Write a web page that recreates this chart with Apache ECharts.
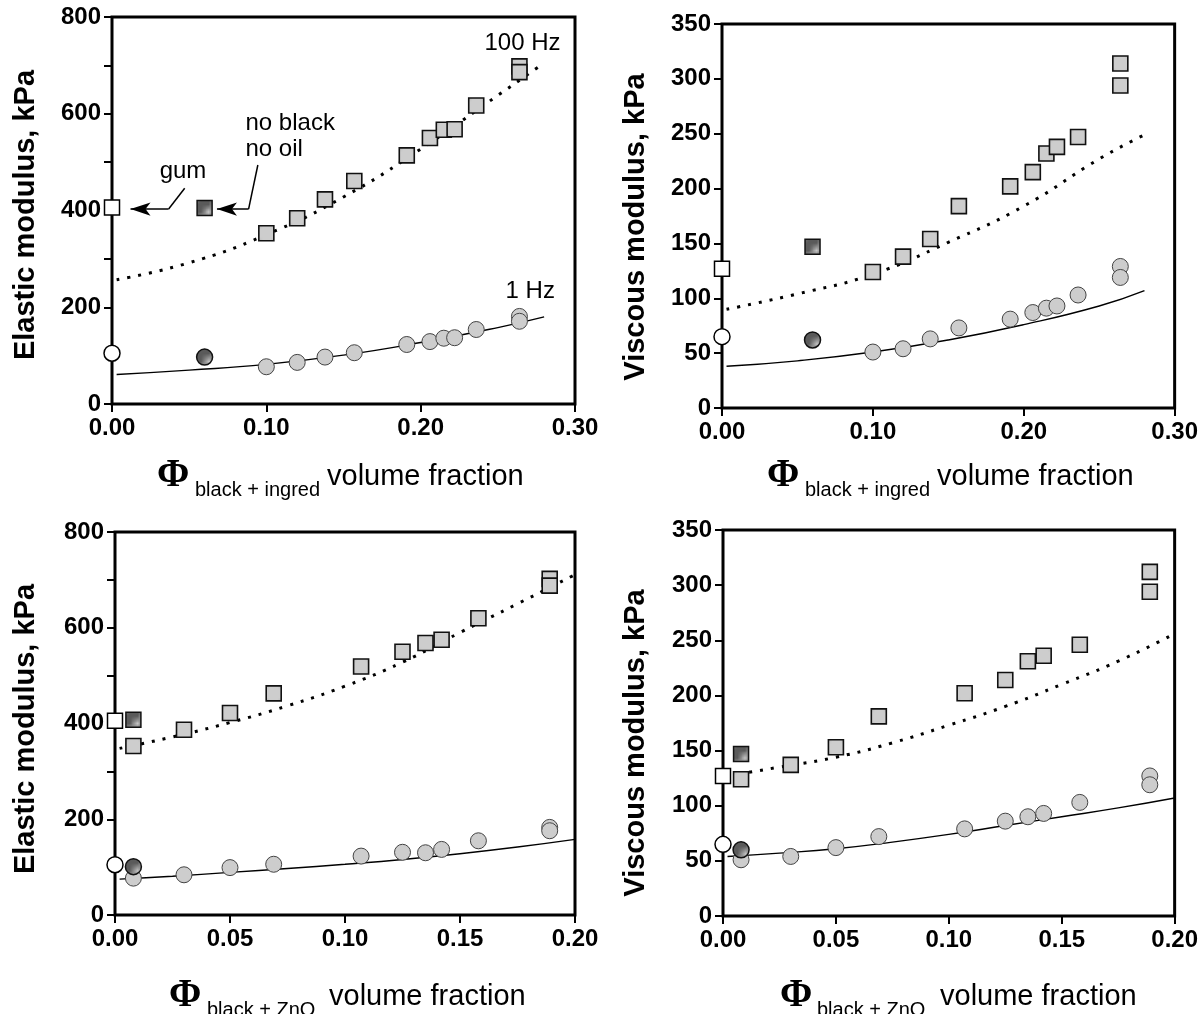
<!DOCTYPE html>
<html>
<head>
<meta charset="utf-8">
<script src="https://cdn.jsdelivr.net/npm/echarts@6/dist/echarts.min.js"></script>
<style>
  html, body { margin: 0; padding: 0; background: #fff; }
  #chart { width: 1201px; height: 1014px; }
</style>
</head>
<body>
<div id="chart"></div>
<script>
// ---------- measurements ----------
// filler volume fraction, black + ingredients series (same samples for G' and G'')
const phiIngred = [0.100, 0.120, 0.138, 0.157, 0.191, 0.206, 0.215, 0.222, 0.236, 0.264, 0.264];
const elasticIngred100Hz = [353, 384, 423, 461, 514, 550, 567, 568, 617, 698, 686];
const elasticIngred1Hz = [77, 86, 97, 106, 123, 129, 136, 137, 154, 181, 171];
const viscousIngred100Hz = [124, 138, 154, 184, 202, 215, 232, 238, 247, 314, 294];
const viscousIngred1Hz = [51, 54, 63, 73, 81, 87, 91, 93, 103, 129, 119];

// filler volume fraction, black + ZnO series
const phiZnO = [0.008, 0.030, 0.050, 0.069, 0.107, 0.125, 0.135, 0.142, 0.158, 0.189, 0.189];
const elasticZnO100Hz = [353, 387, 422, 463, 519, 550, 568, 575, 620, 702, 688];
const elasticZnO1Hz = [77, 84, 99, 106, 123, 131, 130, 137, 155, 183, 176];
const viscousZnO100Hz = [124, 137, 153, 181, 202, 214, 231, 236, 246, 312, 294];
const viscousZnO1Hz = [51, 54, 62, 72, 79, 86, 90, 93, 103, 127, 119];

// reference compounds: gum (phi = 0) and "no black, no oil"
const gumPhi = 0;
const gumElastic = [406, 105];      // [100 Hz, 1 Hz]
const gumViscous = [127, 65];
const noBlackPhiIngred = 0.060;
const noBlackPhiZnO = 0.008;
const noBlackElasticIngred = [405, 97];
const noBlackViscousIngred = [147, 62];
const noBlackElasticZnO = [408, 101];
const noBlackViscousZnO = [147, 60];

// model curves
const fitPhiIngred = [0.003, 0.05, 0.10, 0.15, 0.20, 0.25, 0.28];
const fitElasticIngred100Hz = [257, 292, 350, 428, 527, 638, 705];
const fitElasticIngred1Hz = [61, 70, 82, 101, 127, 158, 180];
const fitViscousIngred100Hz = [90, 104, 122, 151, 184, 227, 249];
const fitViscousIngred1Hz = [38, 43, 51, 62, 76, 93, 107];

const fitPhiZnO = [0.002, 0.025, 0.05, 0.075, 0.10, 0.125, 0.15, 0.175, 0.20];
const fitElasticZnO100Hz = [348, 372, 402, 437, 478, 528, 590, 650, 711];
const fitElasticZnO1Hz = [75, 81, 89, 97, 106, 116, 128, 142, 158];
const fitViscousZnO100Hz = [127, 135, 144, 157, 173, 190, 210, 231, 256];
const fitViscousZnO1Hz = [54, 57, 61, 67, 74, 82, 90, 98, 107];

// ---------- styling helpers ----------
const SANS = "'Liberation Sans', Arial, Helvetica, sans-serif";
const SERIF = "'Liberation Serif', 'Times New Roman', serif";

function tile(bg, dot, size, dots) {
  const c = document.createElement('canvas');
  c.width = size; c.height = size;
  const g = c.getContext('2d');
  g.fillStyle = bg; g.fillRect(0, 0, size, size);
  g.fillStyle = dot;
  dots.forEach(p => g.fillRect(p[0], p[1], 1, 1));
  return { image: c, repeat: 'repeat' };
}
const stipple = tile('#cdcdcd', '#7a7a7a', 3, [[1, 1]]);
const hatch = tile('#5a5a5a', '#c4c4c4', 4, [[0, 0], [2, 2], [1, 3], [3, 1]]);

const zip = (xs, ys) => xs.map((x, i) => [x, ys[i]]);

const grids = [
  { left: 112, top: 17, width: 463, height: 387 },
  { left: 722, top: 24, width: 455, height: 384 },
  { left: 115, top: 532, width: 460, height: 383 },
  { left: 723, top: 530, width: 455, height: 386 }
].map(g => Object.assign({ show: true, borderColor: '#000', borderWidth: 3, backgroundColor: 'transparent' }, g));

function xAxis(idx, max, step) {
  return {
    type: 'value', gridIndex: idx, min: 0, max: max, interval: step,
    axisLine: { show: false },
    axisTick: { show: true, inside: false, length: 8, lineStyle: { color: '#000', width: 2 } },
    splitLine: { show: false },
    axisLabel: { margin: 12, color: '#000', fontSize: 24, fontWeight: 'bold', fontFamily: SANS,
                 formatter: v => v.toFixed(2) }
  };
}
function yAxis(idx, max, step, labelStep) {
  return {
    type: 'value', gridIndex: idx, min: 0, max: max, interval: step,
    axisLine: { show: false },
    axisTick: { show: true, inside: false, length: 8, lineStyle: { color: '#000', width: 2 } },
    splitLine: { show: false },
    axisLabel: { margin: 11, color: '#000', fontSize: 24, fontWeight: 'bold', fontFamily: SANS,
                 formatter: v => (Math.round(v) % labelStep === 0 ? String(Math.round(v)) : '') }
  };
}

function panelSeries(idx, fitX, fit100, fit1, phi, v100, v1, gum, nbPhi, nb) {
  const base = { xAxisIndex: idx, yAxisIndex: idx, animation: false, silent: true };
  return [
    Object.assign({
      type: 'line', data: zip(fitX, fit100), smooth: 0.5, showSymbol: false, z: 2,
      lineStyle: { color: '#000', width: 3, type: [3, 8] }
    }, base),
    Object.assign({
      type: 'line', data: zip(fitX, fit1), smooth: 0.5, showSymbol: false, z: 2,
      lineStyle: { color: '#000', width: 1.4, type: 'solid' }
    }, base),
    Object.assign({
      type: 'scatter', data: zip(phi, v100), symbol: 'rect', symbolSize: 15, z: 4,
      itemStyle: { color: stipple, borderColor: '#111', borderWidth: 1.6, opacity: 1 }
    }, base),
    Object.assign({
      type: 'scatter', data: zip(phi, v1), symbol: 'circle', symbolSize: 16, z: 4,
      itemStyle: { color: stipple, borderColor: '#444', borderWidth: 1, opacity: 1 }
    }, base),
    Object.assign({
      type: 'scatter', z: 5,
      data: [
        { value: [gumPhi, gum[0]], symbol: 'rect', symbolSize: 15 },
        { value: [gumPhi, gum[1]], symbol: 'circle', symbolSize: 16 }
      ],
      itemStyle: { color: '#fff', borderColor: '#000', borderWidth: 1.5, opacity: 1 }
    }, base),
    Object.assign({
      type: 'scatter', z: 5,
      data: [
        { value: [nbPhi, nb[0]], symbol: 'rect', symbolSize: 15 },
        { value: [nbPhi, nb[1]], symbol: 'circle', symbolSize: 16 }
      ],
      itemStyle: { color: hatch, borderColor: '#111', borderWidth: 1.5, opacity: 1 }
    }, base)
  ];
}

// frequency labels and reference-compound call-outs in the first panel
const noteStyle = { color: '#000', fontSize: 24, fontFamily: SANS };
const notes = {
  type: 'scatter', xAxisIndex: 0, yAxisIndex: 0, symbolSize: 0, z: 6, animation: false, silent: true,
  itemStyle: { opacity: 1 },
  data: [
    { value: [0.266, 746], name: '100 Hz', label: { position: 'inside' } },
    { value: [0.271, 232], name: '1 Hz', label: { position: 'inside' } },
    { value: [0.046, 481], name: 'gum', label: { position: 'inside' } },
    { value: [0.0865, 581], name: 'no black', label: { position: 'right', distance: 0 } },
    { value: [0.0865, 526], name: 'no oil', label: { position: 'right', distance: 0 } }
  ],
  label: Object.assign({ show: true, formatter: '{b}', opacity: 1 }, noteStyle),
  markLine: {
    silent: true, animation: false, symbol: ['none', 'none'],
    lineStyle: { color: '#000', width: 1.5, type: 'solid', opacity: 1 },
    label: { show: false },
    data: [
      [{ coord: [0.0471, 446] }, { coord: [0.0367, 403] }],
      [{ coord: [0.0367, 403] }, { coord: [0.012, 403], symbol: 'arrow', symbolSize: [10, 20] }],
      [{ coord: [0.0945, 494] }, { coord: [0.0885, 403] }],
      [{ coord: [0.0885, 403] }, { coord: [0.068, 403], symbol: 'arrow', symbolSize: [10, 20] }]
    ]
  }
};

// axis titles: [phi x, subscript x, "volume fraction" x]
function xTitle(xs, dy, sub) {
  return [
    { type: 'text', x: xs[0], y: 476 + dy, silent: true,
      style: { text: 'Φ', font: 'bold 39px ' + SERIF, fill: '#000', textAlign: 'left', textVerticalAlign: 'middle' } },
    { type: 'text', x: xs[1], y: 490 + dy, silent: true,
      style: { text: sub, font: '20px ' + SANS, fill: '#000', textAlign: 'left', textVerticalAlign: 'middle' } },
    { type: 'text', x: xs[2], y: 477 + dy, silent: true,
      style: { text: 'volume fraction', font: '29px ' + SANS, fill: '#000', textAlign: 'left', textVerticalAlign: 'middle' } }
  ];
}
function yTitle(x, y, text) {
  return { type: 'text', x: x, y: y, rotation: Math.PI / 2, silent: true,
    style: { text: text, font: 'bold 29px ' + SANS, fill: '#000', textAlign: 'center', textVerticalAlign: 'middle' } };
}

const chart = echarts.init(document.getElementById('chart'), null, { renderer: 'canvas' });
chart.setOption({
  backgroundColor: '#fff',
  animation: false,
  grid: grids,
  xAxis: [xAxis(0, 0.30, 0.10), xAxis(1, 0.30, 0.10), xAxis(2, 0.20, 0.05), xAxis(3, 0.20, 0.05)],
  yAxis: [yAxis(0, 800, 100, 200), yAxis(1, 350, 50, 50), yAxis(2, 800, 100, 200), yAxis(3, 350, 50, 50)],
  series: [].concat(
    panelSeries(0, fitPhiIngred, fitElasticIngred100Hz, fitElasticIngred1Hz, phiIngred,
                elasticIngred100Hz, elasticIngred1Hz, gumElastic, noBlackPhiIngred, noBlackElasticIngred),
    panelSeries(1, fitPhiIngred, fitViscousIngred100Hz, fitViscousIngred1Hz, phiIngred,
                viscousIngred100Hz, viscousIngred1Hz, gumViscous, noBlackPhiIngred, noBlackViscousIngred),
    panelSeries(2, fitPhiZnO, fitElasticZnO100Hz, fitElasticZnO1Hz, phiZnO,
                elasticZnO100Hz, elasticZnO1Hz, gumElastic, noBlackPhiZnO, noBlackElasticZnO),
    panelSeries(3, fitPhiZnO, fitViscousZnO100Hz, fitViscousZnO1Hz, phiZnO,
                viscousZnO100Hz, viscousZnO1Hz, gumViscous, noBlackPhiZnO, noBlackViscousZnO),
    [notes]
  ),
  graphic: [].concat(
    xTitle([157, 195, 327], 0, 'black + ingred'),
    xTitle([767, 805, 937], 0, 'black + ingred'),
    xTitle([169, 207, 329], 520, 'black + ZnO'),
    xTitle([780, 817, 940], 520, 'black + ZnO'),
    [yTitle(26, 215, 'Elastic modulus, kPa'),
     yTitle(636, 227, 'Viscous modulus, kPa'),
     yTitle(26, 729, 'Elastic modulus, kPa'),
     yTitle(636, 743, 'Viscous modulus, kPa')]
  )
});
</script>
</body>
</html>
